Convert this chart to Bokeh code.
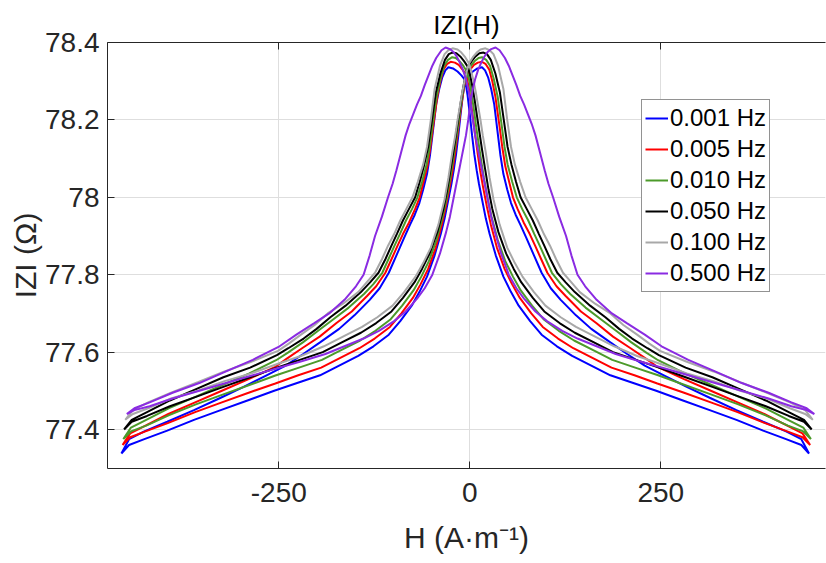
import numpy as np
from bokeh.plotting import figure
from bokeh.models import (Legend, LegendItem, LinearAxis, FixedTicker, Range1d,
                          CustomJSTickFormatter, Title)
from bokeh.embed import file_html
from bokeh.resources import INLINE

# ---------------- data ----------------
labels = ["0.001 Hz", "0.005 Hz", "0.010 Hz", "0.050 Hz", "0.100 Hz", "0.500 Hz"]
colors = ["#0000ff", "#ff0000", "#4c9a2a", "#000000", "#a8a8a8", "#8a2be2"]
# centre of each butterfly (A m^-1)
centers = [-6, -4.5, -3.5, -2.5, -1, 1]

# steep side of each branch: distance from the centre -> |Z| (ohm)
d_narrow = [0, 3, 6, 9, 12, 15, 18, 22, 27, 32, 40, 50, 60, 70, 85, 100, 120, 140,
            165, 190, 220, 250, 285, 320, 355, 390, 420, 440, 450]
zn_001 = [78.303, 78.265, 78.215, 78.16, 78.11, 78.07, 78.035, 77.995, 77.945, 77.905, 77.85,
          77.795, 77.755, 77.72, 77.68, 77.645, 77.615, 77.59, 77.565, 77.54, 77.52, 77.50,
          77.475, 77.45, 77.425, 77.397, 77.375, 77.36, 77.338]
zn_005 = [78.315, 78.285, 78.245, 78.20, 78.155, 78.11, 78.07, 78.025, 77.975, 77.93, 77.87,
          77.815, 77.775, 77.74, 77.70, 77.665, 77.635, 77.61, 77.585, 77.56, 77.54, 77.519,
          77.495, 77.47, 77.445, 77.417, 77.395, 77.38, 77.36]
zn_010 = [78.324, 78.30, 78.265, 78.225, 78.18, 78.14, 78.10, 78.05, 77.995, 77.95, 77.89,
          77.835, 77.795, 77.76, 77.72, 77.685, 77.655, 77.63, 77.605, 77.58, 77.56, 77.54,
          77.515, 77.49, 77.465, 77.437, 77.41, 77.395, 77.375]
zn_050 = [78.337, 78.315, 78.285, 78.25, 78.21, 78.17, 78.13, 78.08, 78.02, 77.97, 77.91,
          77.855, 77.815, 77.78, 77.74, 77.705, 77.675, 77.65, 77.625, 77.60, 77.58, 77.56,
          77.535, 77.51, 77.485, 77.46, 77.435, 77.42, 77.40]
zn_100 = [78.346, 78.325, 78.30, 78.27, 78.235, 78.20, 78.16, 78.115, 78.05, 77.995, 77.93,
          77.87, 77.83, 77.795, 77.755, 77.72, 77.69, 77.665, 77.64, 77.615, 77.59, 77.57,
          77.545, 77.525, 77.50, 77.48, 77.455, 77.44, 77.425]
zn_500 = [78.247, 78.20, 78.16, 78.13, 78.10, 78.07, 78.04, 78.0, 77.95, 77.91, 77.855,
          77.80, 77.765, 77.738, 77.705, 77.68, 77.655, 77.635, 77.615, 77.595, 77.577, 77.56,
          77.54, 77.52, 77.50, 77.48, 77.46, 77.45, 77.44]

# side through the peak: distance from the centre -> |Z| (ohm)
db_001 = [0, 5, 10, 16, 22, 26, 30, 34, 38, 42, 46, 50, 55, 60, 66, 72, 80, 90, 100, 112,
          125, 145, 165, 190, 212, 235, 260, 290, 320, 355, 390, 420, 440, 450]
zb_001 = [78.303, 78.315, 78.325, 78.333, 78.336, 78.328, 78.31, 78.28, 78.24, 78.175,
          78.11, 78.06, 78.02, 77.985, 77.955, 77.93, 77.895, 77.85, 77.805, 77.765, 77.735,
          77.695, 77.66, 77.625, 77.595, 77.565, 77.54, 77.51, 77.482, 77.45, 77.42, 77.395,
          77.375, 77.338]
db_005 = [0, 5, 10, 15, 20.5, 25, 30, 34, 38, 43, 47, 51, 56, 61, 67, 75, 83, 90, 98, 106,
          118, 130, 150, 170, 192, 215, 235, 250, 285, 320, 355, 390, 420, 440, 450]
zb_005 = [78.315, 78.33, 78.342, 78.348, 78.35, 78.345, 78.33, 78.30, 78.26, 78.19, 78.13,
          78.08, 78.04, 78.0, 77.97, 77.935, 77.905, 77.875, 77.84, 77.805, 77.77, 77.745,
          77.705, 77.675, 77.64, 77.61, 77.583, 77.562, 77.53, 77.50, 77.47, 77.44, 77.41,
          77.39, 77.36]
db_010 = [0, 5, 10, 15, 19.5, 25, 30, 35, 40, 45, 49, 53, 59, 65, 72, 80, 88, 95, 103, 111,
          123, 135, 155, 175, 195, 215, 235, 250, 285, 320, 355, 390, 420, 440, 450]
zb_010 = [78.324, 78.34, 78.352, 78.36, 78.362, 78.355, 78.34, 78.305, 78.26, 78.19, 78.13,
          78.085, 78.04, 78.0, 77.97, 77.94, 77.905, 77.875, 77.84, 77.805, 77.775, 77.75,
          77.715, 77.685, 77.655, 77.625, 77.598, 77.579, 77.545, 77.515, 77.485, 77.455,
          77.425, 77.405, 77.375]
db_050 = [0, 5, 10, 15, 20.5, 25, 30, 36, 42, 47, 52, 57, 63, 69, 77, 85, 93, 100, 108, 117,
          128, 140, 160, 180, 198, 215, 235, 250, 285, 320, 355, 390, 420, 440, 450]
zb_050 = [78.337, 78.352, 78.364, 78.372, 78.374, 78.37, 78.355, 78.32, 78.27, 78.20, 78.13,
          78.085, 78.04, 78.0, 77.97, 77.94, 77.905, 77.875, 77.84, 77.805, 77.78, 77.755,
          77.72, 77.69, 77.66, 77.635, 77.61, 77.592, 77.56, 77.535, 77.505, 77.475, 77.445,
          77.425, 77.40]
db_100 = [0, 5, 10, 15, 21.5, 27, 32, 38, 45, 50, 55, 60, 67, 74, 82, 90, 98, 106, 114, 123,
          134, 145, 165, 185, 202, 220, 236, 250, 285, 320, 355, 390, 420, 440, 450]
zb_100 = [78.346, 78.362, 78.374, 78.382, 78.385, 78.38, 78.37, 78.34, 78.28, 78.20, 78.13,
          78.085, 78.04, 78.0, 77.97, 77.94, 77.905, 77.875, 77.84, 77.805, 77.78, 77.755,
          77.725, 77.70, 77.67, 77.645, 77.622, 77.603, 77.575, 77.55, 77.522, 77.495, 77.47,
          77.45, 77.425]
db_500 = [0, 3, 6, 10, 14, 18, 22, 27, 32.7, 38, 45, 50, 55, 60, 65, 70, 75, 80, 85, 91, 97,
          102, 108, 116, 125, 132, 140, 150, 165, 185, 205, 228, 250, 285, 320, 355, 390, 420,
          440, 450]
zb_500 = [78.247, 78.28, 78.305, 78.33, 78.348, 78.363, 78.375, 78.383, 78.387, 78.38, 78.36,
          78.34, 78.315, 78.29, 78.262, 78.24, 78.215, 78.19, 78.16, 78.115, 78.07, 78.035,
          78.0, 77.95, 77.90, 77.85, 77.80, 77.77, 77.735, 77.70, 77.674, 77.645, 77.615,
          77.58, 77.55, 77.52, 77.495, 77.47, 77.455, 77.44]

z_narrow = [zn_001, zn_005, zn_010, zn_050, zn_100, zn_500]
d_broad = [db_001, db_005, db_010, db_050, db_100, db_500]
z_broad = [zb_001, zb_005, zb_010, zb_050, zb_100, zb_500]

x_ticks = [-250, 0, 250]
y_ticks = [77.4, 77.6, 77.8, 78.0, 78.2, 78.4]


def loop(c, dn, zn, db, zb):
    dn, zn, db, zb = map(np.asarray, (dn, zn, db, zb))
    # increasing-field branch: steep side on the left, peak and broad side on the right
    hA = np.concatenate([c - dn[::-1], c + db[1:]])
    zA = np.concatenate([zn[::-1], zb[1:]])
    # decreasing-field branch (mirror image), swept from right to left
    hB = np.concatenate([c + dn[::-1], c - db[1:]])
    zB = np.concatenate([zn[::-1], zb[1:]])
    return np.concatenate([hA, hB]), np.concatenate([zA, zB])


AX = "#262626"
FONT = "Liberation Sans"

p = figure(width=826, height=560, output_backend="svg", toolbar_location=None,
           x_range=Range1d(-474.2, 465.6), y_range=Range1d(77.2992, 78.4),
           min_border_left=107, min_border_right=1, min_border_top=42,
           min_border_bottom=92, background_fill_color="white",
           border_fill_color="white", outline_line_color=None)

p.title = Title(text="IZI(H)", align="center", text_font=FONT,
                text_font_size="26px", text_font_style="normal",
                text_color="#000000", standoff=6)

p.xaxis.ticker = FixedTicker(ticks=x_ticks)
p.xaxis.formatter = CustomJSTickFormatter(code="return Math.round(tick).toString();")
p.yaxis.ticker = FixedTicker(ticks=y_ticks)
p.yaxis.formatter = CustomJSTickFormatter(code="return (Math.round(tick*10)/10).toString();")

for ax in (p.xaxis[0], p.yaxis[0]):
    ax.axis_line_color = AX
    ax.major_tick_line_color = AX
    ax.major_tick_in = 7
    ax.major_tick_out = 0
    ax.minor_tick_line_color = None
    ax.major_label_text_font = FONT
    ax.major_label_text_font_size = "28px"
    ax.major_label_text_color = AX
    ax.axis_label_text_font = FONT
    ax.axis_label_text_font_size = "30px"
    ax.axis_label_text_font_style = "normal"
    ax.axis_label_text_color = AX

p.xaxis.axis_label = "H (A\u00b7m\u207b\u00b9)"
p.yaxis.axis_label = "IZI (\u03a9)"
p.xaxis.major_label_standoff = 14
p.yaxis.major_label_standoff = 8
p.xaxis.axis_label_standoff = 16
p.yaxis.axis_label_standoff = 0

# box edge along the top with inward ticks, no labels
top = LinearAxis(ticker=FixedTicker(ticks=x_ticks),
                 formatter=CustomJSTickFormatter(code="return '';"),
                 major_label_text_font_size="8px",
                 axis_line_color=AX, major_tick_line_color=AX, major_tick_in=7,
                 major_tick_out=0, minor_tick_line_color=None, major_label_standoff=0)
p.add_layout(top, "above")

p.xgrid.grid_line_color = "#dedede"
p.ygrid.grid_line_color = "#dedede"

items = []
for i in range(len(labels)):
    h, z = loop(centers[i], d_narrow, z_narrow[i], d_broad[i], z_broad[i])
    r = p.line(h, z, line_color=colors[i], line_width=2)
    items.append(LegendItem(label=labels[i], renderers=[r]))

legend = Legend(items=items, location=(534, 176), label_text_font=FONT,
                label_text_font_size="24px", label_text_color="#000000",
                glyph_width=23, glyph_height=30, label_height=30, spacing=1,
                padding=3, margin=0, label_standoff=2,
                border_line_color=AX, border_line_width=1,
                background_fill_color="white", background_fill_alpha=1)
p.add_layout(legend, "center")

open("out.html", "w").write(file_html(p, INLINE))
